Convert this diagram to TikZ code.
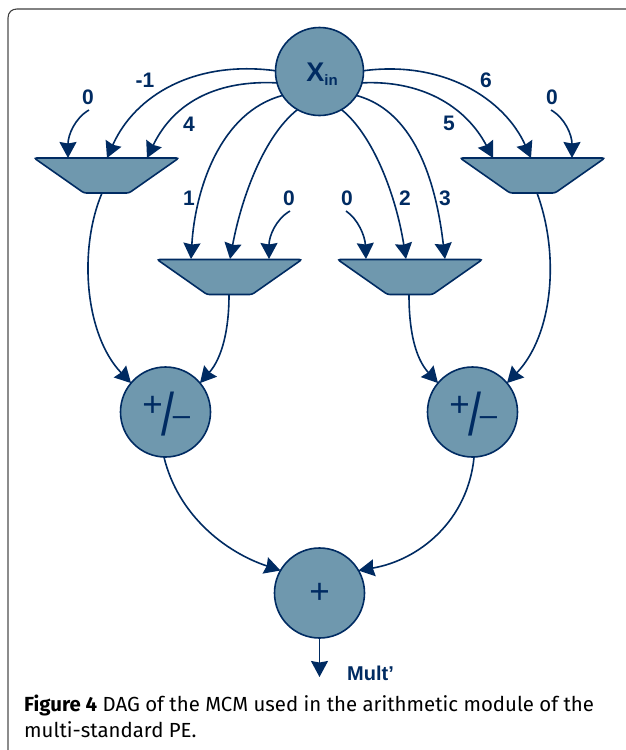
\documentclass[tikz,border=0pt]{standalone}
\usepackage{fontspec}
\usepackage{graphicx}
\setmainfont{Liberation Sans}
\newfontfamily\capfont{Fira Sans}
\usetikzlibrary{arrows.meta,shapes.geometric}
\definecolor{navy}{HTML}{002B62}
\definecolor{steel}{HTML}{6F98AE}
\tikzset{
 opcirc/.style={circle,draw=navy,fill=steel,line width=1.6pt,minimum size=90pt,inner sep=0pt,outer sep=0pt,text=navy,font=\bfseries},
 mux/.style={trapezium,trapezium stretches=true,shape border rotate=180,trapezium left angle=42,trapezium right angle=42,minimum width=145pt,minimum height=35pt,inner sep=0pt,outer sep=0pt,draw=navy,fill=steel,line width=1.6pt,rounded corners=2.5pt},
 wire/.style={draw=navy,line width=1.6pt},
 arr/.style={wire,-{Stealth[length=16pt,width=17pt,inset=1.5pt]}},
 lab/.style={text=navy,font=\bfseries\fontsize{21}{24}\selectfont,inner sep=0pt},
 plusg/.style={text=navy,font=\fontsize{35}{38}\selectfont,inner sep=0pt},
 slashg/.style={text=navy,font=\fontsize{60}{62}\selectfont,inner sep=0pt},
 minusg/.style={text=navy,font=\fontsize{31}{33}\selectfont,inner sep=0pt},
}
\begin{document}
\begin{tikzpicture}[x=1pt,y=-1pt]
\useasboundingbox (0,0) rectangle (626,750);
\fill[white] (0,0) rectangle (626,750);
\draw[draw=gray!90,line width=1.4pt] (8,750) -- (8,18);
\draw[draw=black!75,line width=1.1pt] (8,18) .. controls (8,12) and (12,9) .. (17,9) -- (626,9);

\node[opcirc,minimum size=88pt] (x) at (319.5,71.5) {};
\node[text=navy,font=\bfseries\fontsize{27}{30}\selectfont,inner sep=0pt,anchor=base] (xt) at (322,81.7) {X\raisebox{-3.3pt}{\fontsize{15}{18}\selectfont in}};
\node[mux] (m1) at (106.5,175.5) {\phantom{\rule{10pt}{10pt}}};
\node[mux] (m2) at (229.5,277) {\phantom{\rule{10pt}{10pt}}};
\node[mux] (m3) at (410,277) {\phantom{\rule{10pt}{10pt}}};
\node[mux] (m4) at (532.5,175.5) {\phantom{\rule{10pt}{10pt}}};
\node[opcirc] (a1) at (165.5,412) {};
\node[opcirc] (a2) at (472.5,412) {};
\node[opcirc] (s) at (319.5,593) {};
\node[plusg] (a1p) at (152.7,406.7) {+};
\node[slashg] (a1s) at (167.5,413.7) {\scalebox{0.78}[1]{/}};
\node[minusg] (a1m) at (181.5,420.7) {–};
\node[plusg] (a2p) at (459.7,406.7) {+};
\node[slashg] (a2s) at (474.5,413.7) {\scalebox{0.78}[1]{/}};
\node[minusg] (a2m) at (488.5,420.7) {–};
\node[plusg] (st) at (319.5,593) {+};

\coordinate (m1a) at (68,158); \coordinate (m1b) at (107,158); \coordinate (m1c) at (147,158); \coordinate (m1o) at (102,193);
\coordinate (m2a) at (191,259); \coordinate (m2b) at (230,259); \coordinate (m2c) at (269,259); \coordinate (m2o) at (229,295);
\coordinate (m3a) at (366,259); \coordinate (m3b) at (406,259); \coordinate (m3c) at (445,259); \coordinate (m3o) at (409,295);
\coordinate (m4a) at (493,158); \coordinate (m4b) at (531,158); \coordinate (m4c) at (572,158); \coordinate (m4o) at (537,193);
\coordinate (z1) at (89,110); \coordinate (z2) at (290,211); \coordinate (z3) at (346,211); \coordinate (z4) at (551,110);
\coordinate (out) at (319.5,677);

\draw[arr] (x.179) .. controls (195,60) and (135,95) .. (m1b);
\draw[arr] (x.195) .. controls (220,80) and (175,100) .. (m1c);
\draw[arr] (x.213) .. controls (220,112) and (195,190) .. (m2a);
\draw[arr] (x.240) .. controls (265,135) and (242,195) .. (m2b);
\draw[arr] (x.300) .. controls (373,135) and (396,195) .. (m3b);
\draw[arr] (x.327) .. controls (418,112) and (437,190) .. (m3c);
\draw[arr] (x.345) .. controls (420,80) and (465,105) .. (m4a);
\draw[arr] (x.1) .. controls (445,60) and (505,100) .. (m4b);

\draw[arr] (z1) .. controls (75,118) and (68,135) .. (m1a);
\draw[arr] (z2) .. controls (276,219) and (269,236) .. (m2c);
\draw[arr] (z3) .. controls (358,219) and (365,236) .. (m3a);
\draw[arr] (z4) .. controls (565,118) and (572,135) .. (m4c);

\draw[arr] (m1o) .. controls (78,250) and (85,335) .. (a1.140);
\draw[arr] (m2o) .. controls (229,330) and (222,358) .. (a1.40);
\draw[arr] (m3o) .. controls (409,330) and (415,358) .. (a2.140);
\draw[arr] (m4o) .. controls (560,255) and (553,335) .. (a2.40);
\draw[arr] (a1.-92) .. controls (178,515) and (225,552) .. (s.150);
\draw[arr] (a2.-88) .. controls (468,520) and (420,560) .. (s.30);
\draw[arr] (s.south) -- (out);

\node[lab] (l1) at (145,80) {-1};
\node[lab] (l2) at (88,97) {0};
\node[lab] (l3) at (189,124) {4};
\node[lab] (l4) at (189,198) {1};
\node[lab] (l5) at (289,198) {0};
\node[lab] (l6) at (347,198) {0};
\node[lab] (l7) at (405,198) {2};
\node[lab] (l8) at (445,198) {3};
\node[lab] (l9) at (449,123) {5};
\node[lab] (l10) at (486,80) {6};
\node[lab] (l11) at (552,97) {0};
\node[lab,font=\bfseries\fontsize{20}{22}\selectfont,anchor=west] (l12) at (347,673) {Mult’};
\node[anchor=north west,inner sep=0pt,align=left,font=\capfont\fontsize{20.4}{26}\selectfont,text=black] (cap) at (24,695) {\textbf{Figure 4} DAG of the MCM used in the arithmetic module of the\\multi-standard PE.};
\end{tikzpicture}
\end{document}
